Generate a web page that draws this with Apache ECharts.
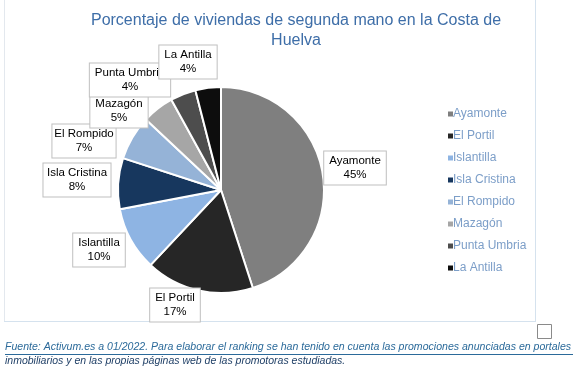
<!DOCTYPE html>
<html><head><meta charset="utf-8">
<script src="https://cdn.jsdelivr.net/npm/echarts@6/dist/echarts.min.js"></script>
<style>html,body{margin:0;padding:0;background:#fff}#c{width:579px;height:370px}</style>
</head><body><div id="c"></div>
<script>
const categories = ['Ayamonte','El Portil','Islantilla','Isla Cristina','El Rompido','Mazagón','Punta Umbria','La Antilla'];
const values = [45,17,10,8,7,5,4,4];
const colors = ['#7f7f7f','#262626','#8eb4e3','#17375e','#95b3d7','#a6a6a6','#4d4d4d','#0d0d0d'];
const labelPos = [[355,168],[175,305],[99,250],[77,180],[84,141],[119,111],[130,80],[188,62]];
const titleText = 'Porcentaje de viviendas de segunda mano en la Costa de\nHuelva';
const note1 = 'Fuente: Activum.es a 01/2022. Para elaborar el ranking se han tenido en cuenta las promociones anunciadas en portales';
const note2 = 'inmobiliarios y en las propias páginas web de las promotoras estudiadas.';

const chart = echarts.init(document.getElementById('c'), null, {renderer:'canvas'});
chart.setOption({
  animation:false,
  backgroundColor:'#fff',
  title:{text:titleText,left:291,top:6,textAlign:'center',
    textStyle:{fontFamily:'Liberation Sans',fontSize:16,fontWeight:'normal',color:'#3e6ea8',lineHeight:20}},
  legend:{orient:'vertical',left:441,top:103,itemWidth:7,itemHeight:7,itemGap:10,icon:'rect',
    textStyle:{fontFamily:'Liberation Sans',fontSize:12,color:'#7c9ec8',padding:[0,0,0,-6]},
    data:categories},
  color:colors,
  series:[{
    type:'pie',center:[221,190],radius:103,startAngle:90,clockwise:true,
    itemStyle:{borderColor:'#fff',borderWidth:2},
    label:{show:true,position:'outside',formatter:'{b}\n{d}%',overflow:'none',
      fontFamily:'Liberation Sans',fontSize:11.5,color:'#000',lineHeight:14,
      backgroundColor:'#fff',borderColor:'#bfbfbf',borderWidth:1,padding:[3,5,2,5],align:'center'},
    labelLine:{show:false},
    labelLayout:function(p){const q=labelPos[p.dataIndex];return {x:q[0],y:q[1],align:'center',verticalAlign:'middle'};},
    data:categories.map((n,i)=>({name:n,value:values[i]}))
  }],
  graphic:[
    {type:'line',shape:{x1:4.5,y1:0,x2:4.5,y2:322},style:{stroke:'#e3e8ee',lineWidth:1}},
    {type:'line',shape:{x1:535.5,y1:0,x2:535.5,y2:322},style:{stroke:'#d5e2ee',lineWidth:1}},
    {type:'line',shape:{x1:4,y1:321.5,x2:536,y2:321.5},style:{stroke:'#d5e2ee',lineWidth:1}},
    {type:'rect',shape:{x:537.5,y:324.5,width:14,height:14},style:{fill:'none',stroke:'#8a8a8a',lineWidth:1}},
    {type:'text',x:5,y:342,scaleX:1.005,style:{text:note1,fontFamily:'Liberation Sans',fontStyle:'italic',fontSize:10.5,fill:'#2b6a9a'}},
    {type:'line',shape:{x1:5,y1:354.5,x2:573,y2:354.5},style:{stroke:'#2b6a9a',lineWidth:1}},
    {type:'text',x:5,y:356,style:{text:note2,fontFamily:'Liberation Sans',fontStyle:'italic',fontSize:10.5,fill:'#1f3f66'}}
  ]
});
</script></body></html>
